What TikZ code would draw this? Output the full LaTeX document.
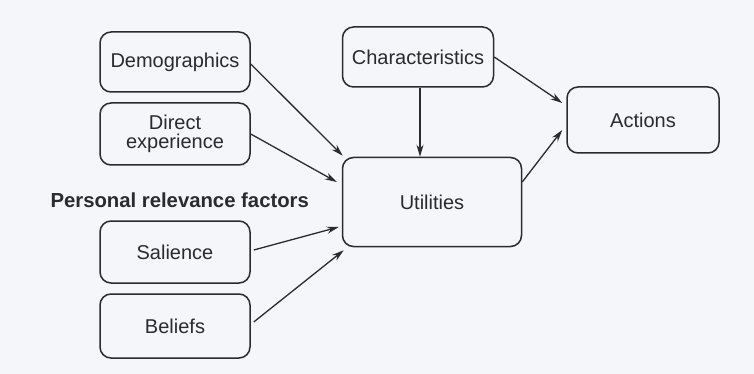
\documentclass[tikz,border=0pt]{standalone}
\usepackage{fontspec}
\setmainfont{Liberation Sans}
\usetikzlibrary{arrows.meta}
\definecolor{paper}{HTML}{F4F6FA}
\definecolor{ink}{HTML}{2A2A2F}
\begin{document}
\begin{tikzpicture}[x=1pt,y=-1pt,
  box/.style={draw=ink, line width=1.5pt, rounded corners=11pt, align=center,
    text=ink, font=\fontsize{20}{22}\selectfont, inner sep=2pt},
  link/.style={draw=ink, line width=1.3pt, -{Stealth[length=12pt,width=7pt]}}]
  \fill[paper] (0,0) rectangle (754,374);
  \useasboundingbox (0,0) rectangle (754,374);

  \node[box, minimum width=150pt, minimum height=60pt] (demo) at (175,62) {Demographics};
  \node[box, minimum width=150pt, minimum height=62pt] (direct) at (175,134) {Direct\\[-3pt]experience};
  \node[box, minimum width=150pt, minimum height=62pt] (sal) at (175,252) {Salience};
  \node[box, minimum width=150pt, minimum height=64pt] (bel) at (175,326) {Beliefs};
  \node[box, minimum width=151pt, minimum height=60pt] (chars) at (418,57) {Characteristics};
  \node[box, minimum width=179pt, minimum height=89pt] (util) at (432,202) {Utilities};
  \node[box, minimum width=152pt, minimum height=66pt] (act) at (643,120) {Actions};

  \node[text=ink, font=\bfseries\fontsize{20.3}{22}\selectfont, anchor=west] (prf) at (47,200) {Personal relevance factors};

  \draw[link] ([yshift=-2pt]demo.east) -- ([xshift=1pt,yshift=1pt]util.north west);
  \draw[link] (direct.east) -- ([xshift=-5pt,yshift=20pt]util.west);
  \draw[link] ([xshift=3pt,yshift=2pt]sal.east) -- ([xshift=-3pt,yshift=-25pt]util.west);
  \draw[link] ([xshift=3pt,yshift=4pt]bel.east) -- ([xshift=2pt,yshift=-3pt]util.south west);
  \draw[link] ([xshift=2pt]chars.south) -- ([xshift=2pt]chars.south |- util.north);
  \draw[link] (chars.east) -- ([xshift=-4pt,yshift=17pt]act.west);
  \draw[link] ([yshift=20pt]util.east) -- ([xshift=-4pt,yshift=-10pt]act.west);
\end{tikzpicture}
\end{document}
